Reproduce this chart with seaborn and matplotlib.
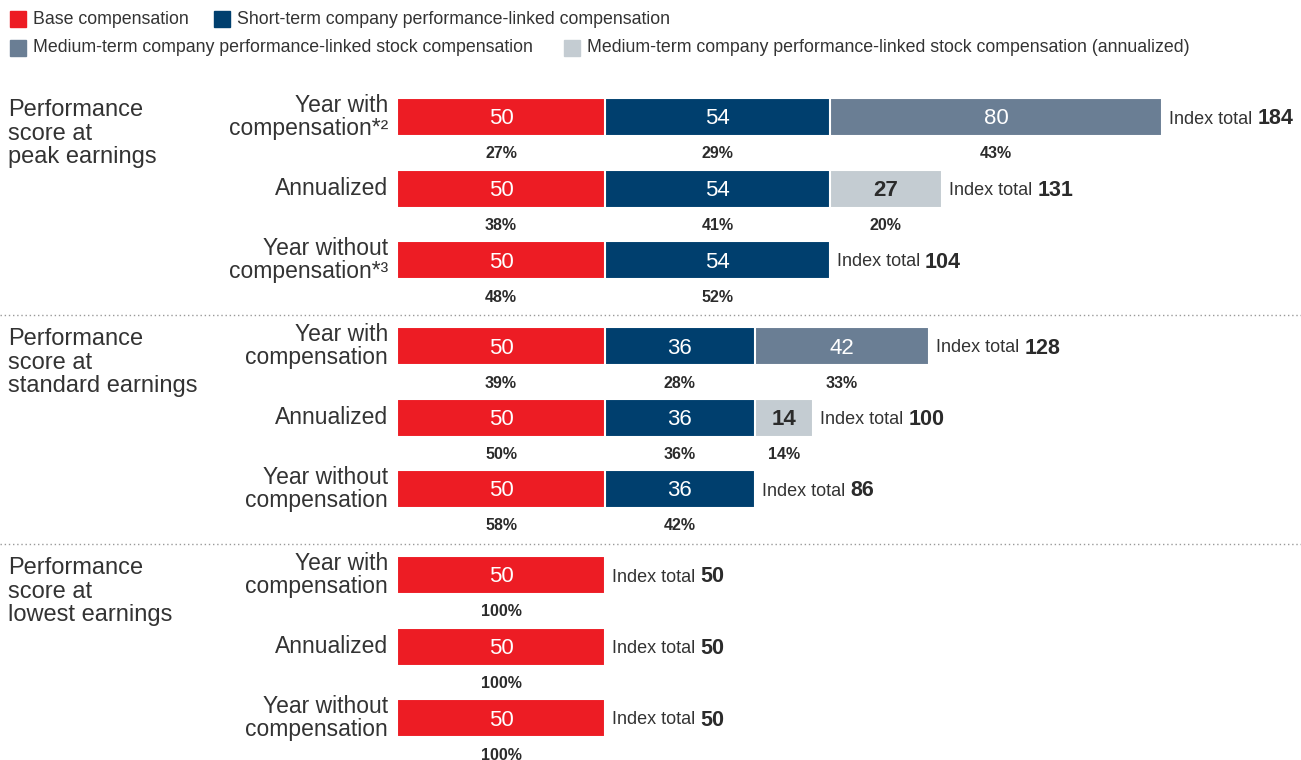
import matplotlib
matplotlib.use("Agg")
import matplotlib.pyplot as plt
import numpy as np
import pandas as pd
import seaborn as sns

sns.set_theme(style="white")
plt.rcParams["font.family"] = ["Liberation Sans", "DejaVu Sans"]

# ---- dados ----
series = [
    "Base compensation",
    "Short-term company performance-linked compensation",
    "Medium-term company performance-linked stock compensation",
    "Medium-term company performance-linked stock compensation (annualized)",
]
colors = ["#ED1C24", "#003F6E", "#6A7E94", "#C4CCD2"]

groups = [
    "Performance\nscore at\npeak earnings",
    "Performance\nscore at\nstandard earnings",
    "Performance\nscore at\nlowest earnings",
]
rows = [
    "Year with\ncompensation*²", "Annualized", "Year without\ncompensation*³",
    "Year with\ncompensation", "Annualized", "Year without\ncompensation",
    "Year with\ncompensation", "Annualized", "Year without\ncompensation",
]
base = [50, 50, 50, 50, 50, 50, 50, 50, 50]
short_term = [54, 54, 54, 36, 36, 36, 0, 0, 0]
medium_term = [80, 0, 0, 42, 0, 0, 0, 0, 0]
medium_annual = [0, 27, 0, 0, 14, 0, 0, 0, 0]

base_pct = [27, 38, 48, 39, 50, 58, 100, 100, 100]
short_pct = [29, 41, 52, 28, 36, 42, 0, 0, 0]
medium_pct = [43, 0, 0, 33, 0, 0, 0, 0, 0]
annual_pct = [0, 20, 0, 0, 14, 0, 0, 0, 0]

components = [base, short_term, medium_term, medium_annual]
pcts = [base_pct, short_pct, medium_pct, annual_pct]

# ---- layout (pixels) ----
W, H = 1301, 760
X0 = 397          # início das barras
PX_UNIT = 4.16    # pixels por unidade de índice
ROW_STEP, GROUP_STEP, FIRST = 71.5, 229, 117
BAR_H = 38
DY = 2            # ajuste vertical do texto de uma linha
ypos = [FIRST + GROUP_STEP * (i // 3) + ROW_STEP * (i % 3) for i in range(len(rows))]

recs = []
for i, y in enumerate(ypos):
    cum = 0
    for k, vals in enumerate(components):
        v = vals[i]
        if v > 0:
            cum += v
            recs.append(dict(pos=y, cum=cum, start=cum - v, value=v,
                             pct=pcts[k][i], series=series[k], k=k))
df = pd.DataFrame(recs)

fig = plt.figure(figsize=(W / 100, H / 100), dpi=100)
ax = fig.add_axes([0, 0, 1, 1])

# barras empilhadas: desenha o acumulado, do maior para o menor
hue_order = [series[2], series[3], series[1], series[0]]
sns.barplot(data=df, x="cum", y="pos", hue="series", hue_order=hue_order,
            palette=dict(zip(series, colors)), saturation=1, orient="y",
            native_scale=True, dodge=False, width=BAR_H / ROW_STEP,
            errorbar=None, legend=False, edgecolor="white", linewidth=1.5, ax=ax)

ax.set_xlim(-X0 / PX_UNIT, (W - X0) / PX_UNIT)
ax.set_ylim(H, 0)
ax.set_axis_off()

txt = "#2b2b2b"
for _, r in df.iterrows():
    cx = r["start"] + r["value"] / 2
    if r["k"] == 3:
        ax.text(cx, r["pos"] + DY, f"{r['value']}", ha="center", va="center",
                fontsize=16, color=txt, fontweight="bold")
    else:
        ax.text(cx, r["pos"] + DY, f"{r['value']}", ha="center", va="center",
                fontsize=16, color="white")
    ax.text(cx, r["pos"] + 35 + DY, f"{r['pct']}%", ha="center", va="center",
            fontsize=11.5, color=txt, fontweight="bold")

# rótulos das linhas
for lab, y in zip(rows, ypos):
    ax.annotate(lab, xy=(0, y), xytext=(-9, 0), textcoords="offset pixels",
                ha="right", va="center", fontsize=16.5, color="#333333",
                linespacing=0.95)

# rótulos dos grupos
for g, lab in enumerate(groups):
    ax.annotate(lab, xy=(8, ypos[g * 3] - BAR_H / 2 + 1), xycoords=("figure pixels", "data"),
                ha="left", va="top", fontsize=17, color="#333333", linespacing=1.1)

# separadores pontilhados
for g in range(len(groups) - 1):
    ax.axhline(ypos[g * 3 + 2] + 55, color="#999999", lw=1.0, linestyle=(0, (1, 2)))

# "Index total NNN"
fig.canvas.draw()
renderer = fig.canvas.get_renderer()
totals = np.sum(components, axis=0)
for y, tot in zip(ypos, totals):
    t = ax.annotate("Index total", xy=(tot, y + DY), xytext=(7, 0), textcoords="offset pixels",
                    ha="left", va="center", fontsize=13, color="#333333")
    w = t.get_window_extent(renderer).width
    ax.annotate(f"{tot}", xy=(tot, y + DY), xytext=(7 + w + 5, 0), textcoords="offset pixels",
                ha="left", va="center", fontsize=15.5, color=txt, fontweight="bold")

# legenda manual (duas linhas)
leg_rows = [[0, 1], [2, 3]]
leg_y = [19, 48]
leg_gap = [25, 31]
for ks, ly, gap in zip(leg_rows, leg_y, leg_gap):
    x = 10
    for k in ks:
        ax.add_patch(plt.Rectangle((x, H - ly - 8), 16, 16, color=colors[k],
                                   transform=None, clip_on=False))
        t = fig.text((x + 23) / W, (H - ly) / H, series[k], ha="left", va="center",
                     fontsize=12.8, color="#333333")
        fig.canvas.draw()
        x = t.get_window_extent(renderer).x1 + gap

fig.savefig("out.png", dpi=100)
